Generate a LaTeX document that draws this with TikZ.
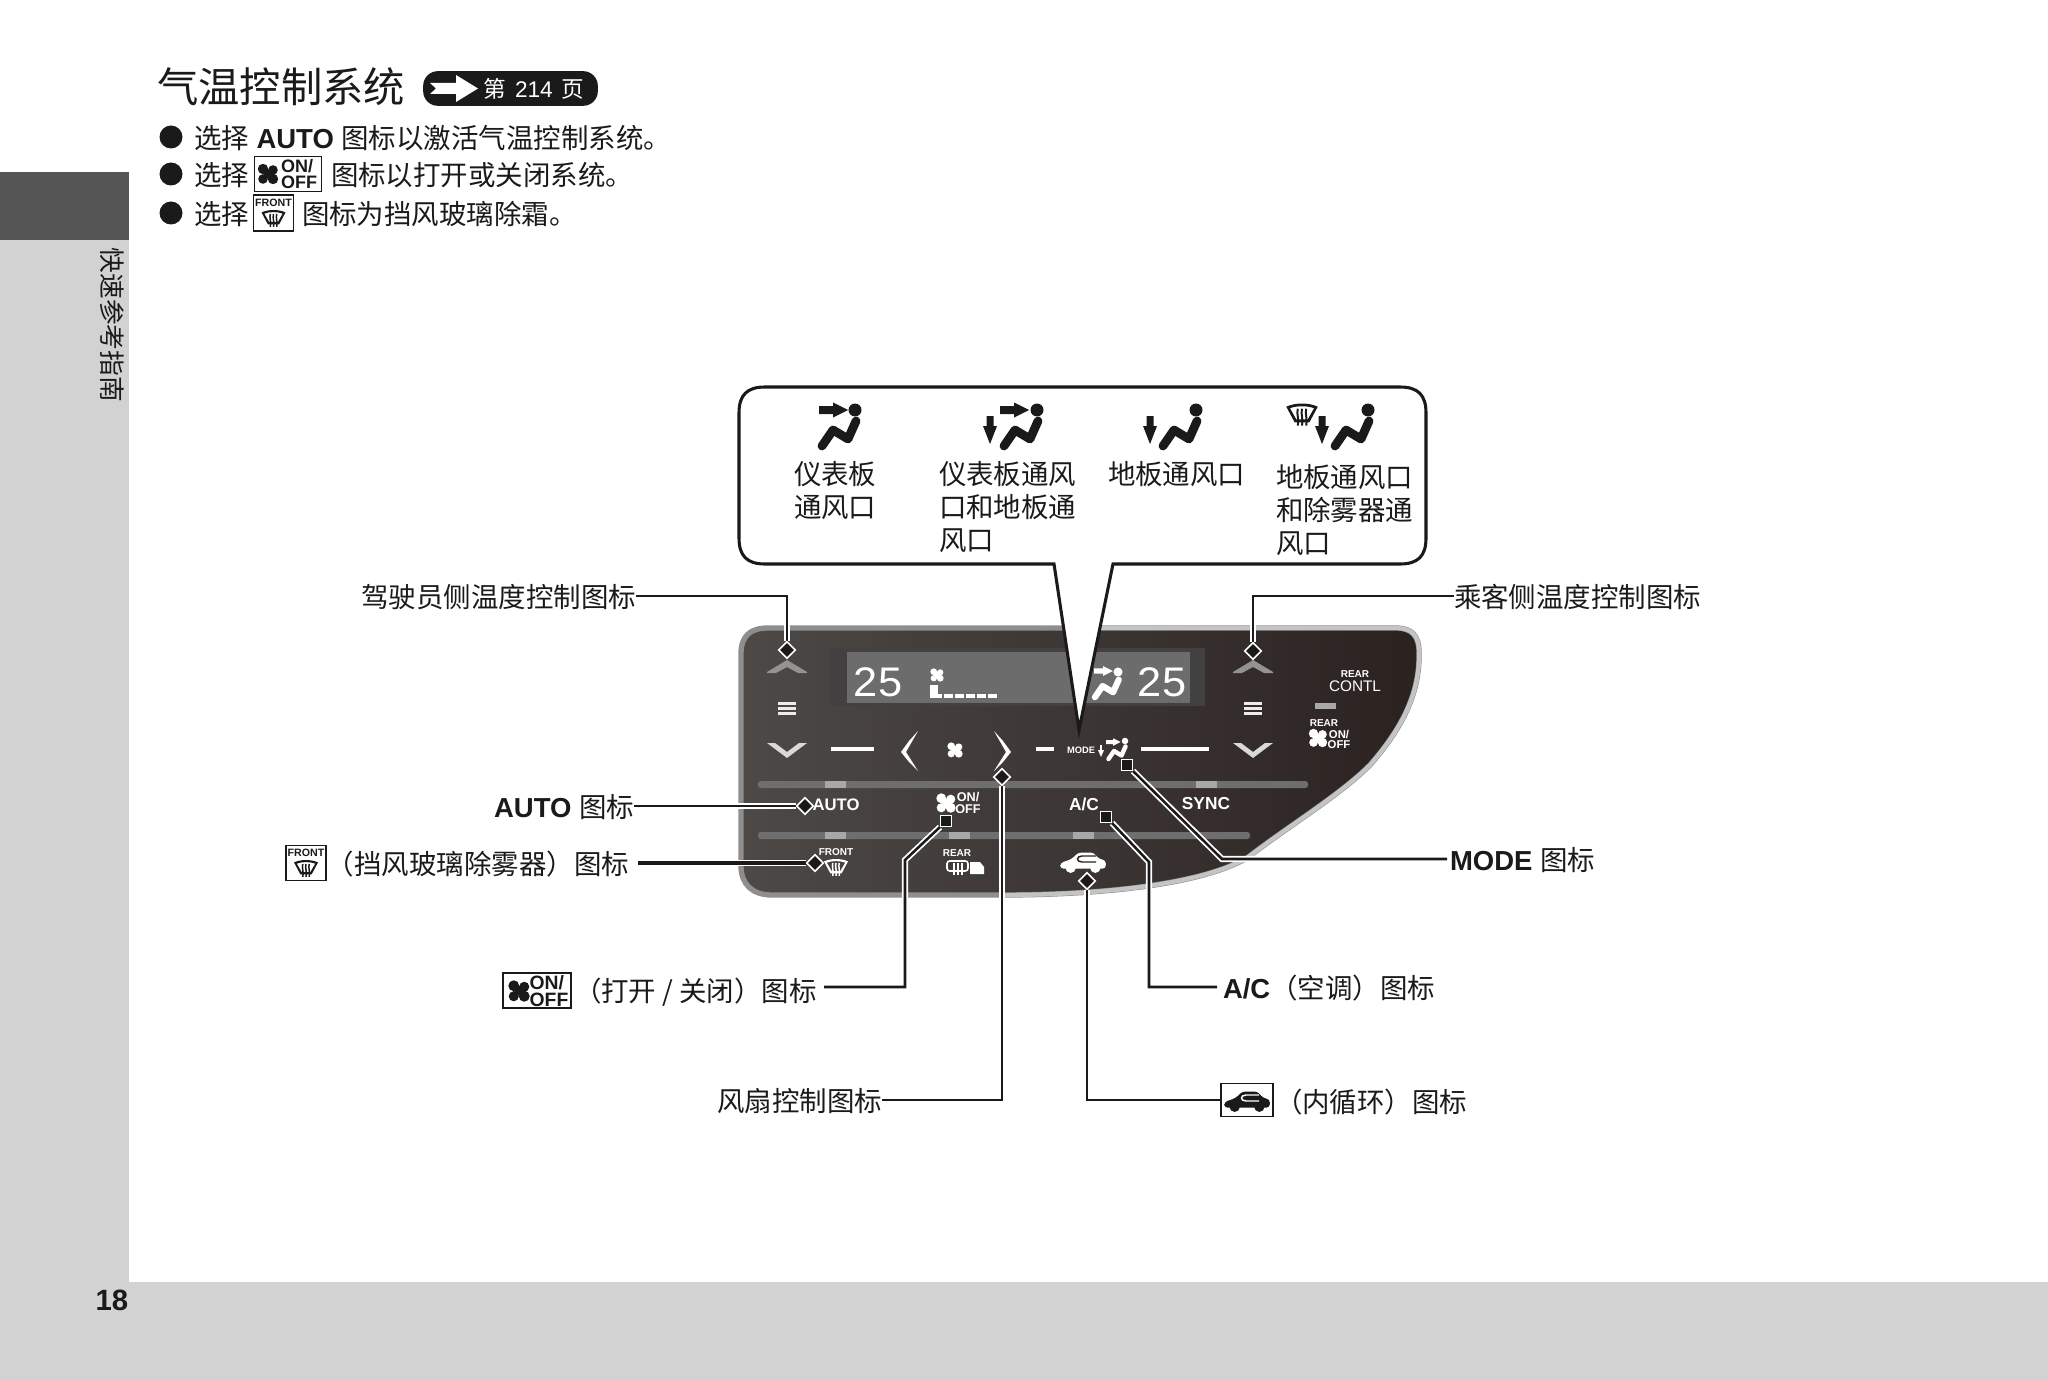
\documentclass[tikz,border=0pt]{standalone}
\usepackage{fontspec}
\setmainfont{Liberation Sans}
\newfontfamily\cjk{Noto Sans CJK SC}
\usetikzlibrary{shapes.geometric}
\definecolor{bandgray}{HTML}{D2D2D2}
\definecolor{tabgray}{HTML}{565656}
\definecolor{panelL}{HTML}{4C4947}
\definecolor{panelR}{HTML}{2B2220}
\definecolor{rimL}{HTML}{8E8E8E}
\definecolor{rimR}{HTML}{C4C4C4}
\definecolor{strip}{HTML}{6E6E6E}
\definecolor{ind}{HTML}{A8A8A8}
\definecolor{lcd}{HTML}{6C6C6C}
\definecolor{lcdframe}{HTML}{424040}
\definecolor{ink}{HTML}{1A1A1A}
\pgfdeclarelayer{marks}
\pgfsetlayers{main,marks}
\newcommand\fs[1]{\fontsize{#1}{#1}\selectfont}
\tikzset{
  lbl/.style={inner sep=0pt,outer sep=0pt,text=ink,font={\fs{20.6}},text height=19pt,text depth=1.7pt},
  wht/.style={inner sep=0pt,outer sep=0pt,text=white,font={\bfseries\fs{#1}},align=center},
  wht/.default=8,
  leader/.style={draw=ink,line width=1.9pt,line join=miter,preaction={draw=white,line width=4.6pt}},
  dmark/.style={diamond,draw=white,fill=ink,line width=1.2pt,minimum width=13pt,minimum height=13pt,inner sep=0pt},
  smark/.style={rectangle,draw=white,fill=ink,line width=1.1pt,minimum size=8pt,inner sep=0pt},
  coltext/.style={inner sep=0pt,outer sep=0pt,text=ink,align=left,font={\cjk\fontsize{20.6}{25}\selectfont}},
  iconbox/.style={draw=ink,line width=1.2pt,fill=white},
  stripbar/.style={fill=strip,rounded corners=2pt},
  indbar/.style={fill=ind},
}
\newcommand\person[4]{\begin{scope}[shift={(#1,#2)},scale=#3]
  \fill[#4] (0,0) circle (6.5);
  \draw[#4,line width=#3*6.6pt,line cap=round,line join=round] (1,11) -- (-7,29) -- (-22,20) -- (-33,36);
\end{scope}}
\newcommand\rarrow[4]{\begin{scope}[shift={(#1,#2)},scale=#3]
  \fill[#4] (0,-4) -- (14,-4) -- (14,-7.5) -- (29,0) -- (14,7.5) -- (14,4) -- (0,4) -- cycle;
\end{scope}}
\newcommand\darrow[2]{\fill[ink] (#1-3.5,#2) -- (#1+3.5,#2) -- (#1+3.5,#2+10) -- (#1+7,#2+10) -- (#1,#2+28) -- (#1-7,#2+10) -- (#1-3.5,#2+10) -- cycle;}
\newcommand\fanicon[4]{\begin{scope}[shift={(#1,#2)},scale=#3]
  \fill[#4] (-5,-5) circle (5.2) (5,-4) circle (4.8) (-5,5) circle (4.8) (5,5) circle (5.2) (0,0) circle (4);
\end{scope}}
\newcommand\defrost[4]{\begin{scope}[shift={(#1,#2)},scale=#3]
  \path[fill=#4,even odd rule] (-15,-7) .. controls (-6,-11) and (6,-11) .. (15,-7) -- (7,8) -- (-7,8) -- cycle
    (-11.5,-5.5) .. controls (-5,-8) and (5,-8) .. (11.5,-5.5) -- (5.5,5) -- (-5.5,5) -- cycle;
  \foreach \dx in {-4,0,4} \draw[#4,line width=#3*1.4pt] (\dx,-5) .. controls (\dx-1.5,0) and (\dx+1.5,5) .. (\dx,11);
\end{scope}}
\newcommand\caricon[4]{\begin{scope}[shift={(#1,#2)},scale=#3]
  \fill[#4,rounded corners=2.5pt] (-24,7) -- (-24,1) -- (-12,-3) -- (-5,-10) -- (11,-10) -- (17,-3) -- (24,-2) -- (24,7) -- cycle;
  \fill[#4] (-13,6) circle (5.5) (13,6) circle (5.5);
\end{scope}}
\begin{document}
\begin{tikzpicture}[x=0.75pt,y=-0.75pt]
\useasboundingbox (0,0) rectangle (2048,1380);
\fill[white] (0,0) rectangle (2048,1380);
% page bands
\fill[bandgray] (0,172) rectangle (129,1380);
\fill[bandgray] (0,1282) rectangle (2048,1380);
\fill[tabgray] (0,172) rectangle (129,240);
\node[lbl,rotate=-90,font={\cjk\fs{19.3}},text height=14.5pt,text depth=3.5pt] (side) at (110,325) {快速参考指南};
\node[inner sep=0pt,text=ink,font={\bfseries\fs{22}}] (pageno) at (112,1300) {18};
% heading
\node[lbl,anchor=west,font={\cjk\fs{31}},text height=24pt,text depth=6pt] (title) at (157,91) {气温控制系统};
\node[rectangle,rounded corners=11pt,fill=ink,minimum width=131pt,minimum height=26pt,inner sep=0pt] (pill) at (510.5,88.5) {};
\fill[white] (430,83) -- (456,83) -- (456,75) -- (478,88.5) -- (456,102) -- (456,94) -- (430,94) -- (436,88.5) -- cycle;
\node[inner sep=0pt,text=white,anchor=west,font={\cjk\fs{17}}] (pilltext) at (483,89) {第\hspace{3pt} {\fontspec{Liberation Sans}214}\hspace{3pt} 页};
% bullets
\foreach \yy/\nn in {137/a,174/b,213/c} \fill[ink] (171,\yy) circle (11.5);
\node[lbl,anchor=west] (r1) at (194,137) {{\cjk 选择} \textbf{AUTO} {\cjk 图标以激活气温控制系统。}};
\node[lbl,anchor=west,font={\cjk\fs{20.6}}] (r2a) at (194,174) {选择};
\node[iconbox,minimum width=50pt,minimum height=26pt,inner sep=0pt] (r2box) at (288,174) {};
\fanicon{268}{174}{1.0}{ink}
\node[inner sep=0pt,text=ink,font={\bfseries\fs{13.5}},align=left] (r2on) at (299,174) {ON/\\[-2pt]OFF};
\node[lbl,anchor=west,font={\cjk\fs{20.6}}] (r2b) at (331,174) {图标以打开或关闭系统。};
\node[lbl,anchor=west,font={\cjk\fs{20.6}}] (r3a) at (194,213) {选择};
\node[iconbox,minimum width=30pt,minimum height=27pt,inner sep=0pt] (r3box) at (273.5,213) {};
\node[inner sep=0pt,text=ink,font={\bfseries\fs{8}}] (r3f) at (273.5,203) {FRONT};
\defrost{273.5}{218}{0.8}{ink}
\node[lbl,anchor=west,font={\cjk\fs{20.6}}] (r3b) at (302,213) {图标为挡风玻璃除霜。};
% control panel
\path[left color=panelL,right color=panelR,draw=rimL,line width=4pt]
  (741,654) .. controls (741,636) and (750,628) .. (768,628) -- (1396,628)
  .. controls (1412,628) and (1419,636) .. (1419,652)
  .. controls (1420,690) and (1405,725) .. (1370,765)
  .. controls (1340,795) and (1290,825) .. (1247,858)
  .. controls (1200,885) and (1100,895) .. (1000,895)
  -- (772,895) .. controls (752,895) and (741,884) .. (741,866) -- cycle;
\draw[rimR,line width=3.2pt]
  (1100,628) -- (1396,628)
  .. controls (1412,628) and (1419,636) .. (1419,652)
  .. controls (1420,690) and (1405,725) .. (1370,765)
  .. controls (1340,795) and (1290,825) .. (1247,858)
  .. controls (1200,885) and (1100,895) .. (1000,895);
% LCD
\fill[lcdframe] (830,648) rectangle (1205,706);
\fill[lcd] (847,652) rectangle (1190,703);
\node[inner sep=0pt,text=white,xscale=1.05,font={\fs{31}}] (t25l) at (878,682) {25};
\node[inner sep=0pt,text=white,xscale=1.05,font={\fs{31}}] (t25r) at (1162,682) {25};
\fanicon{937}{675}{0.65}{white}
\fill[white] (930,685) rectangle (938,698);
\fill[white] (930,694) rectangle (997,698);
\foreach \bx in {942,953,964,975,986} \fill[lcd] (\bx,694) rectangle (\bx+1.5,698);
\person{1118}{672}{0.7}{white}
\rarrow{1094}{671}{0.65}{white}
% temperature controls
\foreach \cx in {787,1253} {
  \fill[gray!85] (\cx-20,672) -- (\cx,660) -- (\cx+20,672) -- (\cx+20,673) -- (\cx+11,673) -- (\cx,667) -- (\cx-11,673) -- (\cx-20,673) -- cycle;
  \draw[white!85!gray,line width=2.3pt] (\cx-9,703.5) -- (\cx+9,703.5) (\cx-9,708.5) -- (\cx+9,708.5) (\cx-9,713.5) -- (\cx+9,713.5);
  \fill[white!70!gray] (\cx-20,743) -- (\cx-12,743) -- (\cx,752) -- (\cx+12,743) -- (\cx+20,743) -- (\cx,758) -- cycle;
}
% fan row
\draw[white,line width=3.4pt] (831,749) -- (874,749);
\draw[white,line width=3.4pt] (1036,749) -- (1054,749);
\draw[white,line width=3.4pt] (1141,749) -- (1209,749);
\fill[white] (918,731) -- (906,752) -- (918,771) -- (909,762) -- (901,752) -- (909,741) -- cycle;
\fill[white] (994,731) -- (1006,752) -- (994,771) -- (1003,762) -- (1011,752) -- (1003,741) -- cycle;
\fanicon{955}{750}{0.75}{white}
\node[wht=7] (tmode) at (1081,750) {MODE};
\fill[white] (1100,745) rectangle (1102,751);
\fill[white] (1098,750) -- (1104,750) -- (1101,757) -- cycle;
\person{1125}{741}{0.5}{white}
\rarrow{1106}{742}{0.5}{white}
% strips
\fill[stripbar] (758,781) rectangle (1308,788);
\fill[stripbar] (758,832) rectangle (1250,839);
\foreach \ax/\ay in {825/781,1196/781,825/832,949/832,1073/832} \fill[indbar] (\ax,\ay) rectangle (\ax+21,\ay+7);
% panel labels
\node[wht=12.5] (tauto) at (836,805) {AUTO};
\fanicon{946}{803}{0.95}{white}
\node[wht=9.5] (tonoff) at (968,803) {ON/\\[-1pt]OFF};
\node[wht=13] (tac) at (1084,804) {A/C};
\node[wht=13] (tsync) at (1206,804) {SYNC};
\node[wht=7.5] (tfront) at (836,852) {FRONT};
\defrost{836}{867}{0.8}{white}
\node[wht=7.5] (trear) at (957,853) {REAR};
\draw[white,line width=1.2pt,rounded corners=2pt] (947,861) rectangle (968,871);
\draw[white,line width=1pt] (954,863) -- (954,875) (958,863) -- (958,875) (962,863) -- (962,875);
\fill[white] (970,862) -- (980,862) -- (984,867) -- (984,874) -- (970,874) -- cycle;
\caricon{1083}{862}{0.95}{white}
\draw[panelR,line width=1.1pt] (1096,856) -- (1082,856) .. controls (1076,856) and (1076,862) .. (1082,862) -- (1096,862);
\node[wht=7.5] (trear2) at (1355,674) {REAR};
\node[text=white,inner sep=0pt,font={\fs{11.5}}] (tcontl) at (1355,686) {CONTL};
\fill[indbar] (1315,703) rectangle (1336,709);
\node[wht=7.5] (trear3) at (1324,723) {REAR};
\fanicon{1318}{738}{0.9}{white}
\node[wht=8.5] (tonoff2) at (1339,739) {ON/\\[-1pt]OFF};
% callout
\path[draw=ink,fill=white,line width=2.3pt,line join=miter]
  (765,387) -- (1400,387) .. controls (1418,387) and (1426,395) .. (1426,413) -- (1426,538)
  .. controls (1426,556) and (1418,564) .. (1400,564) -- (1113,564) -- (1079,730) -- (1054,564)
  -- (765,564) .. controls (747,564) and (739,556) .. (739,538) -- (739,413) .. controls (739,395) and (747,387) .. (765,387) -- cycle;
\person{855}{410}{1}{ink}
\rarrow{819}{410}{1}{ink}
\person{1037}{410}{1}{ink}
\rarrow{1000}{410}{1}{ink}
\darrow{990}{416}
\person{1196}{410}{1}{ink}
\darrow{1150}{416}
\person{1368}{410}{1}{ink}
\darrow{1322}{416}
\defrost{1302}{414}{1.05}{ink}
\node[coltext,anchor=north west] (c1) at (794,461) {仪表板\\通风口};
\node[coltext,anchor=north west] (c2) at (939,461) {仪表板通风\\口和地板通\\风口};
\node[coltext,anchor=north west] (c3) at (1108,461) {地板通风口};
\node[coltext,anchor=north west] (c4) at (1276,464) {地板通风口\\和除雾器通\\风口};
% outside labels
\node[lbl,anchor=east,font={\cjk\fs{20.6}}] (lDriver) at (636,596) {驾驶员侧温度控制图标};
\node[lbl,anchor=west,font={\cjk\fs{20.6}}] (lPass) at (1454,596) {乘客侧温度控制图标};
\node[lbl,anchor=east] (lAuto) at (634,806) {\textbf{AUTO} {\cjk 图标}};
\node[iconbox,minimum width=30pt,minimum height=26pt,inner sep=0pt] (frontbox) at (306,863) {};
\node[inner sep=0pt,text=ink,font={\bfseries\fs{8}}] (ff) at (306,853) {FRONT};
\defrost{306}{868}{0.8}{ink}
\node[lbl,anchor=east,font={\cjk\fs{20.6}}] (lFront) at (629,863) {（挡风玻璃除雾器）图标};
\node[iconbox,minimum width=51pt,minimum height=26pt,inner sep=0pt] (onbox) at (537,990.5) {};
\fanicon{519}{991}{1.05}{ink}
\node[inner sep=0pt,text=ink,font={\bfseries\fs{14.5}},align=left] (onboxt) at (549,991) {ON/\\[-2pt]OFF};
\node[lbl,anchor=west,font={\cjk\fs{20.6}}] (lOn) at (574,990) {（打开 / 关闭）图标};
\node[lbl,anchor=east,font={\cjk\fs{20.6}}] (lFan) at (882,1100) {风扇控制图标};
\node[lbl,anchor=west] (lAc) at (1223,987) {\textbf{A/C}{\cjk（空调）图标}};
\node[lbl,anchor=west] (lMode) at (1450,859) {\textbf{MODE} {\cjk 图标}};
\node[iconbox,minimum width=39pt,minimum height=25pt,inner sep=0pt] (carbox) at (1247,1100) {};
\caricon{1247}{1101}{0.95}{ink}
\draw[white,line width=1.1pt] (1259,1095) -- (1246,1095) .. controls (1240,1095) and (1240,1101) .. (1246,1101) -- (1259,1101);
\node[lbl,anchor=west,font={\cjk\fs{20.6}}] (lCar) at (1275,1101) {（内循环）图标};
% connector marks, on a layer above the connectors
\begin{pgfonlayer}{marks}
\node[dmark] (dDriver) at (787,650) {};
\node[dmark] (dPass) at (1253,651) {};
\node[dmark] (dAuto) at (805,806) {};
\node[dmark] (dFront) at (815,863) {};
\node[dmark] (dFan) at (1002,777) {};
\node[dmark] (dCar) at (1087,881) {};
\node[smark] (sOn) at (946,821) {};
\node[smark] (sAc) at (1106,817) {};
\node[smark] (sMode) at (1127,765) {};
\end{pgfonlayer}
\coordinate (cOnA) at (905,987);
\coordinate (cOnB) at (905,860);
\coordinate (cAcA) at (1149,987);
\coordinate (cAcB) at (1149,862);
\coordinate (cModeA) at (1222,859);
\coordinate (cOnS) at (824,987);
\coordinate (cFan) at (1002,1100);
\coordinate (cCar) at (1087,1100);
\coordinate (cCarE) at (1220,1100);
\coordinate (cFrontS) at (638,863);
\coordinate (cModeE) at (1447,859);
\coordinate (cAcE) at (1217,987);
% connectors
\draw[leader] (lDriver.east) -| (dDriver.north);
\draw[leader] (lPass.west) -| (dPass.north);
\draw[leader] (lAuto.east) -- (dAuto.west);
\draw[leader,line width=2.8pt] (cFrontS) -- (dFront.west);
\draw[leader] (cOnS) -- (cOnA) -- (cOnB) -- (sOn.south west);
\draw[leader] (lFan.east) -- (cFan) -- (dFan.south);
\draw[leader] (cCarE) -- (cCar) -- (dCar.south);
\draw[leader] (cAcE) -- (cAcA) -- (cAcB) -- (sAc.south east);
\draw[leader] (cModeE) -- (cModeA) -- (sMode.south east);
\end{tikzpicture}
\end{document}
